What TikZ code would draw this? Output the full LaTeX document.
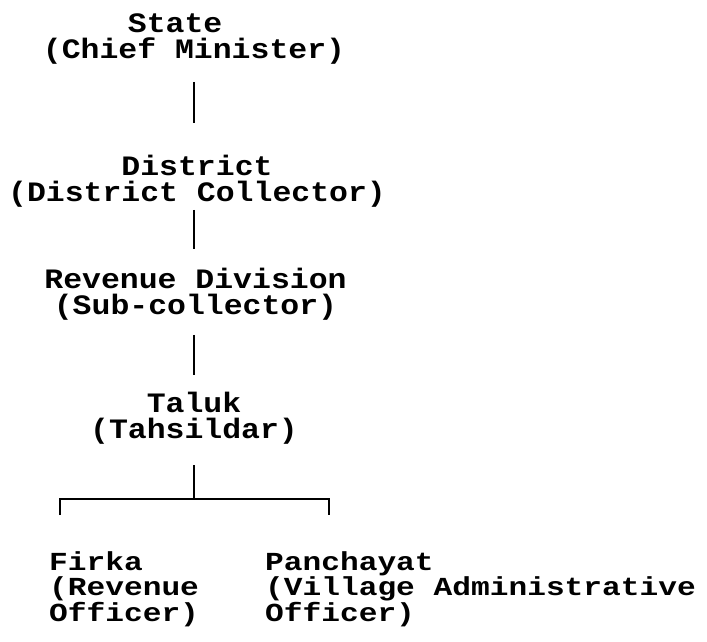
\documentclass[tikz,border=0pt]{standalone}
\usepackage{fontspec}
\setmonofont[FakeStretch=1.12]{Liberation Mono}
\newfontfamily\leaffont[FakeStretch=1.2]{Liberation Mono}
\begin{document}
\begin{tikzpicture}[x=1pt,y=-1pt,
  lbl/.style={inner sep=0pt, align=center, anchor=base,
    font={\ttfamily\bfseries\fontsize{28.1pt}{26pt}\selectfont}},
  leaf/.style={inner sep=0pt, align=left, anchor=base west,
    font={\leaffont\bfseries\fontsize{26pt}{24.5pt}\selectfont}},
  conn/.style={line width=2.2pt}]
\useasboundingbox (0,0) rectangle (707,641);
\node[lbl] (state) at (194,58.5) {State\phantom{xx}\\(Chief Minister)};
\node[lbl] (district) at (197,201.5) {District\\(District Collector)};
\node[lbl] (revdiv) at (195.5,314) {Revenue Division\\(Sub-collector)};
\node[lbl] (taluk) at (194,438) {Taluk\\(Tahsildar)};
\node[leaf] (firka) at (49,621) {Firka\\(Revenue\\Officer)};
\node[leaf] (panch) at (265,621) {Panchayat\\(Village Administrative\\Officer)};
\coordinate (barL) at (60,499);
\coordinate (barR) at (329,499);
\coordinate (dropL) at (60,515);
\coordinate (dropR) at (329,515);
\draw[conn, shorten <=17.3pt, shorten >=32pt] (state.south) -- (state.south |- district.north);
\draw[conn, shorten <=2.3pt, shorten >=18.6pt] (state.south |- district.south) -- (state.south |- revdiv.north);
\draw[conn, shorten <=14.8pt, shorten >=16.5pt] (state.south |- revdiv.south) -- (state.south |- taluk.north);
\draw[conn, shorten <=21pt] (taluk.south) -- (taluk.south |- barL);
\draw[conn, line width=2pt] (dropL) -- (barL) -- (barR) -- (dropR);
\end{tikzpicture}
\end{document}
